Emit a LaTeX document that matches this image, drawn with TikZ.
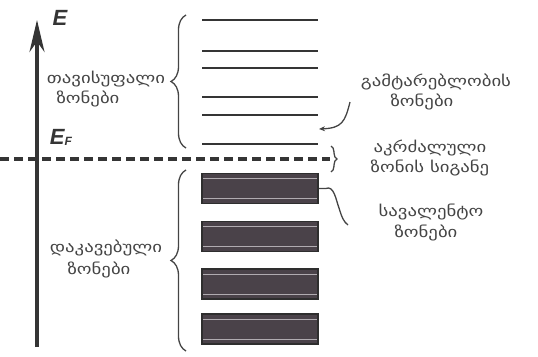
\documentclass[tikz,border=0pt]{standalone}
\usepackage{fontspec}
\setmainfont{DejaVu Sans}
\newfontfamily\geofont[FakeStretch=1.25]{DejaVu Sans}
\newfontfamily\efont{Liberation Sans}
\usetikzlibrary{arrows.meta,decorations.pathreplacing,calc}
\definecolor{lc}{HTML}{353535}
\definecolor{bf}{HTML}{4A4249}
\definecolor{bc}{HTML}{2E2E2E}
\definecolor{tc}{HTML}{444444}
\definecolor{sc}{HTML}{B0ABB0}
\begin{document}
\begin{tikzpicture}[x=1pt,y=-1pt,
  lvl/.style={draw=lc, line width=2.8pt},
  stripe/.style={draw=sc, line width=1pt},
  band/.style={draw=bc, line width=1.5pt, fill=bf, minimum width=116pt, minimum height=30pt, inner sep=0pt,
    path picture={
      \draw[stripe] ([yshift=-5pt]path picture bounding box.north west) -- ([yshift=-5pt]path picture bounding box.north east);
      \draw[stripe] ([yshift=5pt]path picture bounding box.south west) -- ([yshift=5pt]path picture bounding box.south east);}},
  geo/.style={text=tc, font=\geofont\fontsize{15}{17}\selectfont, inner sep=0pt},
  elab/.style={text=lc, font=\efont\bfseries\itshape\fontsize{22}{22}\selectfont, inner sep=0pt},
  brc/.style={draw=tc, line width=1.3pt, decorate, decoration={brace, amplitude=#1}},
  conn/.style={draw=tc, line width=1.3pt},
]
\useasboundingbox (0,0) rectangle (538,356);
% axis
\coordinate (ax0) at (37,347);
\coordinate (ax1) at (37,20);
\draw[draw=lc, line width=3.5pt, -{Stealth[length=32pt,width=15pt]}] (ax0) -- (ax1);
\node[elab] (E) at (60,18) {E};
\node[elab] (EF) at (61,137) {E\raisebox{-1pt}{\fontsize{12}{12}\selectfont F}};
% Fermi level
\coordinate (f0) at (0,159);
\coordinate (f1) at (330,159);
\draw[draw=lc, line width=4pt, dash pattern=on 9pt off 5pt] (f0) -- (f1);
% levels
\foreach \y/\n in {20/l1,51/l2,68/l3,97/l4,115/l5,144/l6}{
  \coordinate (\n a) at (202,\y);
  \coordinate (\n b) at (318,\y);
  \draw[lvl] (\n a) -- (\n b);
}
% bands
\node[band] (b1) at (260,188.5) {};
\node[band] (b2) at (260,236.5) {};
\node[band] (b3) at (260,284) {};
\node[band] (b4) at (260,329) {};
% braces
\coordinate (tb0) at (186,148);
\coordinate (tb1) at (186,15);
\draw[brc=15] (tb0) -- (tb1);
\coordinate (bb0) at (186,351);
\coordinate (bb1) at (186,170);
\draw[brc=15] (bb0) -- (bb1);
\coordinate (gb0) at (331,146);
\coordinate (gb1) at (331,172);
\draw[brc=6] (gb0) -- (gb1);
% labels
\node[geo] (free1) at (106,79) {თავისუფალი};
\node[geo] (free2) at (88,99) {ზონები};
\node[geo] (occ1) at (106,248) {დაკავებული};
\node[geo] (occ2) at (99,270) {ზონები};
\node[geo] (cond1) at (436,82) {გამტარებლობის};
\node[geo] (cond2) at (422,102) {ზონები};
\node[geo] (gap1) at (430,148) {აკრძალული};
\node[geo] (gap2) at (430,168) {ზონის სიგანე};
\node[geo] (val1) at (431,212) {სავალენტო};
\node[geo] (val2) at (426,233) {ზონები};
% connectors
\coordinate (ca) at (350,102);
\coordinate (cb) at (319,129);
\draw[conn, -{Stealth[length=6pt,width=5pt]}] (ca) .. controls (345,122) and (342,128) .. (cb);
\coordinate (va) at (348,225);
\draw[conn] (b1.east) -- ++(7,0) .. controls (334,185) and (336,200) .. (339,208) .. controls (342,218) and (344,222) .. (va);
\end{tikzpicture}
\end{document}
